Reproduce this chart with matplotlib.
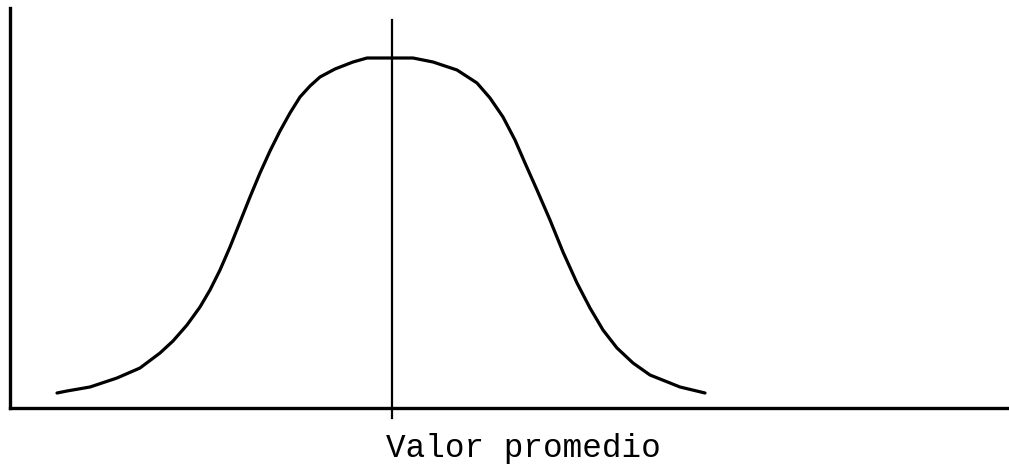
import matplotlib
matplotlib.use("Agg")
import matplotlib.pyplot as plt

# Bell curve (x: horizontal position, y: height above baseline)
curve_x = [47, 57, 80, 107, 130, 150, 163, 177, 190, 200, 210, 220, 230, 240, 250, 260,
           270, 280, 290, 300, 310, 325, 343, 357, 385, 403, 423, 447, 467, 480, 493,
           505, 515, 527, 540, 553, 567, 580, 593, 607, 623, 640, 670, 695]
curve_y = [15, 17, 21, 30, 40, 55, 67, 83, 101, 118, 138, 161, 186, 211, 235, 257,
           277, 295, 311, 322, 331, 339, 346, 350, 350, 350, 346, 338, 325, 310, 291,
           268, 245, 218, 188, 156, 125, 100, 78, 60, 45, 33, 21, 15]

mean_x = 382
mean_line_y = [-10, 388]
label_text = "Valor promedio"

W, H = 1009, 467
fig = plt.figure(figsize=(W / 100, H / 100), dpi=100)
fig.patch.set_facecolor("white")
ax = fig.add_axes([10 / W, 59 / H, 999 / W, 400 / H])
ax.set_xlim(0, 999)
ax.set_ylim(0, 400)
ax.set_facecolor("white")

ax.plot(curve_x, curve_y, color="black", linewidth=2.3,
        solid_capstyle="round", solid_joinstyle="round")
ax.plot([mean_x, mean_x], mean_line_y, color="black", linewidth=1.6, clip_on=False)

for s in ["top", "right"]:
    ax.spines[s].set_visible(False)
for s in ["left", "bottom"]:
    ax.spines[s].set_linewidth(2.4)
    ax.spines[s].set_color("black")
ax.set_xticks([])
ax.set_yticks([])

ax.text(376, -49, label_text, fontsize=23.5, family=["Liberation Mono", "DejaVu Sans Mono"],
        ha="left", va="baseline", color="black", clip_on=False)

fig.savefig("out.png", dpi=100, facecolor="white")
